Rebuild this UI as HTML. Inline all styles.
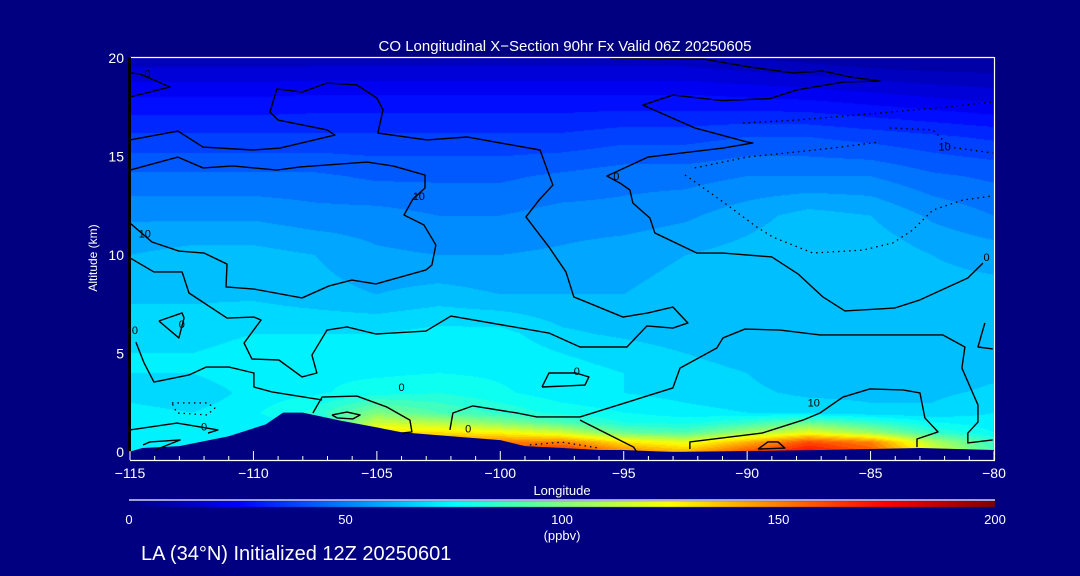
<!DOCTYPE html>
<html><head><meta charset="utf-8">
<style>
html,body{margin:0;padding:0;background:#000080;}
#wrap{position:relative;width:1080px;height:576px;background:#000080;overflow:hidden;font-family:"Liberation Sans",sans-serif;color:#fff;}
canvas{position:absolute;left:0;top:0;}
svg{position:absolute;left:0;top:0;}
</style></head>
<body>
<div id="wrap">
<canvas id="cv" width="1080" height="576"></canvas>
<svg id="sv" width="1080" height="576"></svg>
</div>
<script>
// ---- data ----
const lons = [-115,-112.5,-110,-107.5,-105,-102.5,-100,-97.5,-95,-92.5,-90,-87.5,-85,-82.5,-80];
const alts = [0,0.5,1,1.5,2,3,4,5,6,8,10,12,14,16,18,20];
const a0   = [70,70,72,74,150,160,165,170,150,140,160,175,160,120,90];
const a05  = [70,70,72,74,140,150,150,150,130,120,140,160,150,110,85];
const a1   = [70,70,72,74,130,130,125,115,95,90,105,120,105,85,75];
const a15  = [72,72,73,75,115,110,100,90,80,78,85,95,85,75,72];
const a2   = [72,70,74,82,100,90,84,78,75,72,70,68,66,66,70];
const a3   = [68,66,72,74,78,80,76,72,70,68,66,64,64,64,66];
const a4   = [70,70,74,74,74,75,74,72,70,68,65,62,62,62,64];
const a5   = [70,70,72,72,72,74,74,70,68,65,62,62,62,62,64];
const a6   = [68,68,70,70,70,72,72,66,64,62,62,60,60,60,62];
const a8   = [64,64,64,62,60,62,60,60,60,62,62,62,62,62,62];
const a10  = [60,62,62,60,56,55,55,56,58,60,62,64,64,60,58];
const a12  = [54,54,54,52,52,50,50,52,52,54,58,62,60,54,50];
const a14  = [46,46,46,46,44,44,44,46,48,48,50,50,50,46,44];
const a16  = [36,36,36,36,36,36,36,36,38,38,40,40,38,36,34];
const a18  = [25,25,25,26,26,26,26,26,26,26,25,24,22,20,18];
const a20  = [12,12,12,12,12,12,12,12,12,12,10,8,6,5,5];
const field = [a0,a05,a1,a15,a2,a3,a4,a5,a6,a8,a10,a12,a14,a16,a18,a20];

const terrainLon = [-115,-114.5,-113,-111,-109.5,-108.8,-108,-106.5,-105,-104,-102,-100,-99,-97.5,-96,-95,-93,-90,-87,-85,-83,-80];
const terrainAlt = [0.02,0.2,0.3,0.8,1.4,2.0,2.0,1.6,1.25,1.0,0.8,0.6,0.3,0.2,0.1,0.1,0.0,0.05,0.1,0.15,0.2,0.1];

const xTicks = [-115,-110,-105,-100,-95,-90,-85,-80];
const yTicks = [0,5,10,15,20];
const cbTicks = [0,50,100,150,200];

const solidLines = [
 [[-115,15.84],[-113.06,16.29],[-112.04,15.48],[-110.02,15.33],[-108.92,15.43],[-106.7,16.09],[-107.02,16.35],[-109.0,16.85],[-109.33,17.26],[-109.05,18.43],[-108.03,18.27],[-107.02,18.73],[-105.81,18.63],[-105.0,17.97],[-104.75,17.36],[-104.96,16.19],[-102.97,15.84],[-101.35,15.99],[-100.01,15.69],[-98.39,15.33],[-97.87,13.55],[-98.43,12.79],[-98.96,11.93],[-98.03,10.41],[-97.34,9.14],[-97.02,7.87],[-96.41,7.56],[-95.03,6.85],[-94.02,7.06],[-93.01,7.36],[-92.4,6.55],[-93.01,6.29],[-94.06,6.4],[-94.87,5.33],[-96.77,5.33],[-98.03,6.04],[-102.0,6.9],[-103.01,6.14],[-105.04,5.99],[-106.21,6.35],[-107.02,6.19],[-107.63,4.92],[-107.43,4.01],[-108.03,3.81],[-108.97,4.67],[-110.06,4.72],[-110.38,5.53],[-109.69,6.7],[-109.98,6.85],[-111.07,6.8],[-112.61,8.07],[-112.89,9.14],[-114.03,9.14],[-115,9.85]],
 [[-115,14.31],[-113.06,14.97],[-112.04,14.42],[-110.83,14.52],[-109.05,14.31],[-108.11,14.47],[-105.4,14.72],[-104.35,14.52],[-103.05,14.06],[-103.05,13.4],[-103.54,12.84],[-103.9,12.03],[-103.09,11.52],[-102.61,10.51],[-102.77,9.49],[-103.01,9.24],[-105.04,8.53],[-106.01,8.73],[-106.94,8.43],[-108.03,7.82],[-109.98,8.27],[-111.11,8.38],[-111.07,9.54],[-112.0,10.1],[-113.02,10.2],[-114.11,10.66],[-115,11.62]],
 [[-95.56,20],[-91.79,19.95],[-89.89,19.54],[-88.15,19.24],[-86.93,19.34],[-85.84,19.04],[-84.62,18.83],[-86.12,18.78],[-87.99,18.38],[-89.08,17.94],[-91.02,17.84],[-93.01,18.12],[-94.22,17.61],[-92.12,16.45],[-90.01,15.74],[-89.77,15.69],[-90.98,15.43],[-94.02,14.97],[-95.68,14.01],[-95.15,13.65],[-94.75,13.3],[-94.63,12.64],[-93.94,11.88],[-93.74,11.12],[-92.04,10.1],[-90.98,10.1],[-89.0,9.9],[-87.94,9.04],[-86.93,7.87],[-86.04,7.16],[-84.02,7.31],[-83.0,7.72],[-81.06,8.83],[-80.45,9.59]],
 [[-102.04,1.12],[-101.92,1.98],[-101.11,2.34],[-99.33,1.98],[-98.52,1.78],[-96.77,1.78],[-93.01,3.25],[-92.72,4.26],[-91.23,5.28],[-90.98,5.79],[-90.09,6.24],[-88.67,6.19],[-87.05,5.94],[-82.07,5.94],[-81.18,5.33],[-81.3,4.26],[-80.65,2.39],[-80.65,1.52],[-81.06,0.96],[-81.06,0.46],[-80.05,0.61]],
 [[-96.77,1.62],[-94.6,0.25],[-94.47,0]],
 [[-92.32,0.15],[-92.32,0.51],[-89.4,0.96],[-87.74,1.62],[-87.05,1.98],[-86.12,2.79],[-85.03,3.2],[-83.69,3.15],[-83.0,3.0],[-82.8,1.73],[-82.27,1.02],[-83.12,0.66],[-83.12,0.25]],
 [[-107.59,1.98],[-107.22,2.79],[-105.81,2.84],[-104.59,2.28],[-103.66,1.62],[-103.58,1.02],[-103.98,0.96]],
 [[-115,1.12],[-113.1,1.47],[-112.16,1.27],[-111.44,1.12],[-111.84,0.96]],
 [[-114.47,0.36],[-114.19,0.51],[-112.97,0.61],[-113.99,0.1]],
 [[-114.76,5.58],[-114.43,4.52],[-114.03,3.55],[-112.61,3.91],[-111.92,4.31],[-110.99,4.31],[-109.98,4.01],[-109.98,3.3],[-109.25,3.05],[-107.22,2.64]],
 [[-106.82,1.88],[-106.21,2.03],[-105.68,1.88],[-105.97,1.68],[-106.61,1.73],[-106.82,1.88]],
 [[-89.56,0.15],[-89.16,0.51],[-88.75,0.51],[-88.47,0.2],[-89.56,0.15]],
 [[-113.83,6.65],[-112.89,7.06],[-112.81,6.8],[-113.02,5.79],[-113.83,6.65]],
 [[-98.31,3.3],[-98.03,4.01],[-96.94,4.01],[-96.41,3.81],[-96.57,3.4],[-98.31,3.3]],
 [[-80.37,6.55],[-80.65,5.33],[-80.05,5.23]],
 [[-115,18.02],[-113.38,18.53],[-114.6,19.19],[-115,19.24]]
];
const dottedLines = [
 [[-92.52,14.06],[-92.04,13.65],[-90.7,12.44],[-89.61,11.42],[-88.96,10.91],[-87.34,10.1],[-85.31,10.25],[-84.1,10.61],[-83.29,11.27],[-82.48,12.28],[-81.26,12.79],[-80.05,13.0]],
 [[-92.12,14.42],[-90.01,14.97],[-88.39,15.18],[-86.53,15.43],[-84.62,15.74]],
 [[-90.17,16.7],[-87.99,16.85],[-84.62,17.21],[-81.91,17.51],[-80.05,17.77]],
 [[-84.22,16.45],[-82.48,16.35],[-81.79,15.48],[-80.05,15.18]],
 [[-113.3,2.49],[-111.88,2.49],[-111.56,2.23],[-111.88,1.88],[-113.1,1.98],[-113.3,2.49]],
 [[-98.8,0.36],[-97.5,0.5],[-96,0.2]]
];
const contourLabels = [
 [-114.3,19.0,"0"],[-114.4,10.9,"10"],[-103.3,12.8,"10"],[-95.3,13.8,"0"],[-82.0,15.3,"10"],
 [-80.3,9.7,"0"],[-112.9,6.3,"0"],[-114.8,6.0,"0"],[-112.0,1.1,"0"],[-101.3,1.0,"0"],
 [-87.3,2.3,"10"],[-96.9,3.9,"0"],[-104.0,3.1,"0"]
];

// ---- axes ----
const X0=130, X1=994, Y0=452, Y1=58;
const xs = lon => X0 + (lon + 115) / 35 * (X1 - X0);
const ys = a => Y0 - a / 20 * (Y0 - Y1);

function jet(v){
  const t=Math.max(0,Math.min(1,v/200));
  const c=x=>Math.max(0,Math.min(1,x));
  return [c(Math.min(4*t-1.5,-4*t+4.5))*255, c(Math.min(4*t-0.5,-4*t+3.5))*255, c(Math.min(4*t+0.5,-4*t+2.5))*255];
}
function findIdx(arr,v){
  for(let i=0;i<arr.length-2;i++){ if(v<arr[i+1]) return i; }
  return arr.length-2;
}
function sample(lon,alt){
  const i=findIdx(lons,lon), j=findIdx(alts,alt);
  const fx=Math.max(0,Math.min(1,(lon-lons[i])/(lons[i+1]-lons[i])));
  const fy=Math.max(0,Math.min(1,(alt-alts[j])/(alts[j+1]-alts[j])));
  const v00=field[j][i],v10=field[j][i+1],v01=field[j+1][i],v11=field[j+1][i+1];
  return (v00*(1-fx)+v10*fx)*(1-fy)+(v01*(1-fx)+v11*fx)*fy;
}

// ---- heatmap ----
const cv=document.getElementById('cv');
const ctx=cv.getContext('2d');
const W=X1-X0, H=Y0-Y1;
const img=ctx.createImageData(W,H);
for(let py=0;py<H;py++){
  const alt=(Y0-(Y1+py+0.5))/(Y0-Y1)*20;
  for(let px=0;px<W;px++){
    const lon=-115+(px+0.5)/W*35;
    let v=sample(lon,alt);
    v=Math.floor(v/5)*5+2.5;
    const col=jet(v);
    const k=(py*W+px)*4;
    img.data[k]=col[0];img.data[k+1]=col[1];img.data[k+2]=col[2];img.data[k+3]=255;
  }
}
ctx.putImageData(img,X0,Y1);
// colorbar
const cbImg=ctx.createImageData(866,6);
for(let px=0;px<866;px++){
  const col=jet(px/865*200);
  for(let py=0;py<6;py++){const k=(py*866+px)*4;cbImg.data[k]=col[0];cbImg.data[k+1]=col[1];cbImg.data[k+2]=col[2];cbImg.data[k+3]=255;}
}
ctx.putImageData(cbImg,129,501);

// ---- svg overlay ----
const NS='http://www.w3.org/2000/svg';
const sv=document.getElementById('sv');
function mk(tag,attrs,parent){const e=document.createElementNS(NS,tag);for(const k in attrs)e.setAttribute(k,attrs[k]);(parent||sv).appendChild(e);return e;}

// terrain
let tp=`M${xs(terrainLon[0])},${Y0}`;
terrainLon.forEach((l,i)=>{tp+=` L${xs(l)},${ys(terrainAlt[i])}`;});
tp+=` L${xs(terrainLon[terrainLon.length-1])},${Y0} Z`;
const terr=mk('path',{d:tp,fill:'#000080'});


const below=mk('rect',{x:X0,y:Y0,width:X1-X0,height:8,fill:'#000080'});



// contours
const cg=mk('g',{fill:'none',stroke:'#000','stroke-width':1.4,'stroke-linejoin':'round'});


solidLines.forEach(line=>{
  const p=mk('polyline',{points:line.map(q=>xs(q[0])+','+ys(q[1])).join(' ')},cg);
  
  
});
dottedLines.forEach(line=>{
  const p=mk('polyline',{points:line.map(q=>xs(q[0])+','+ys(q[1])).join(' '),'stroke-dasharray':'1.5 4','stroke-width':1.3},cg);
  
  
});
contourLabels.forEach(c=>{
  const t=mk('text',{x:xs(c[0]),y:ys(c[1]),'font-size':11,fill:'#000','font-family':'Liberation Sans, sans-serif','text-anchor':'middle'});
  t.textContent=c[2];
  
  
});

// frame
const fr=mk('g',{});


mk('line',{x1:X0,y1:57.5,x2:X1,y2:57.5,stroke:'#fff','stroke-width':1.2},fr);
mk('line',{x1:X1+0.5,y1:57,x2:X1+0.5,y2:460,stroke:'#fff','stroke-width':1.2},fr);
mk('line',{x1:X0,y1:460.5,x2:X1+1,y2:460.5,stroke:'#fff','stroke-width':1.2},fr);
const yax=mk('line',{x1:X0-0.5,y1:57,x2:X0-0.5,y2:Y0,stroke:'#000','stroke-width':3});



// x ticks
for(let l=-115;l<=-80;l++){
  const major=(l%5===0);
  const tk=mk('line',{x1:xs(l),x2:xs(l),y1:460,y2:major?451:456,stroke:'#fff','stroke-width':1});
  
  
}
xTicks.forEach(l=>{
  const t=mk('text',{x:xs(l),y:478,'font-size':14,fill:'#fff','text-anchor':'middle','font-family':'Liberation Sans, sans-serif'});
  t.textContent=(l<0?'\u2212'+(-l):l);
  
  
});
yTicks.forEach(a=>{
  const t=mk('text',{x:124,y:ys(a)+5,'font-size':14,fill:'#fff','text-anchor':'end','font-family':'Liberation Sans, sans-serif'});
  t.textContent=a;
  
  
});
const xt=mk('text',{x:562,y:495,'font-size':13,fill:'#fff','text-anchor':'middle','font-family':'Liberation Sans, sans-serif'});
xt.textContent='Longitude';


const yt=mk('text',{x:0,y:0,'font-size':12,fill:'#fff','text-anchor':'middle','font-family':'Liberation Sans, sans-serif',transform:'translate(97,258) rotate(-90)'});
yt.textContent='Altitude (km)';


const ti=mk('text',{x:565,y:51,'font-size':15,fill:'#fff','text-anchor':'middle','font-family':'Liberation Sans, sans-serif'});
ti.textContent='CO Longitudinal X\u2212Section 90hr  Fx Valid 06Z 20250605';



// colorbar
const cbl=mk('line',{x1:129,y1:500,x2:995,y2:500,stroke:'#fff','stroke-width':1.2});


cbTicks.forEach(v=>{
  const t=mk('text',{x:129+v/200*866,y:524,'font-size':13,fill:'#fff','text-anchor':'middle','font-family':'Liberation Sans, sans-serif'});
  t.textContent=v;
  
  
});
const un=mk('text',{x:562,y:540,'font-size':13,fill:'#fff','text-anchor':'middle','font-family':'Liberation Sans, sans-serif'});
un.textContent='(ppbv)';


const ft=mk('text',{x:141,y:560,'font-size':20,fill:'#fff','font-family':'Liberation Sans, sans-serif'});
ft.textContent='LA (34\u00b0N) Initialized 12Z 20250601';


</script>
</body></html>
